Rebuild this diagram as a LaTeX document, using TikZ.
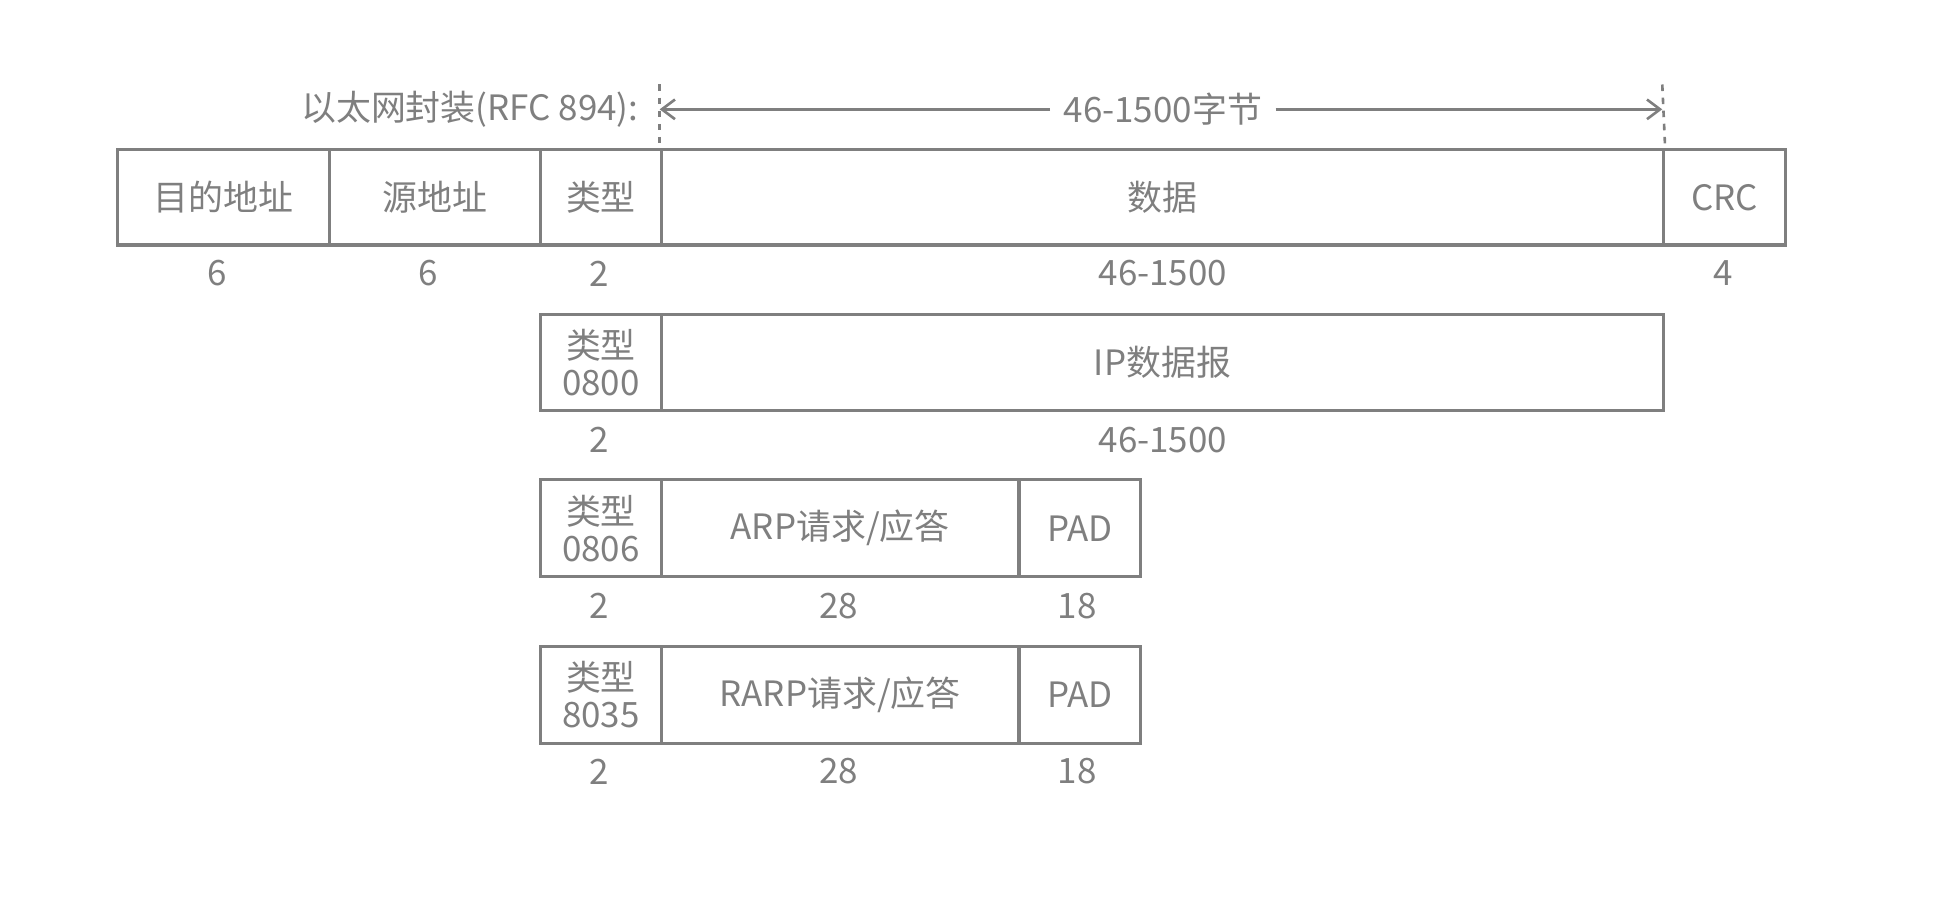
\documentclass[tikz,border=0pt]{standalone}
\usepackage{fontspec}
\setmainfont{Noto Sans CJK SC}
\usetikzlibrary{arrows.meta}
\definecolor{g}{HTML}{7F7F7F}
\begin{document}
\begin{tikzpicture}[x=0.02cm,y=-0.02cm,
  box/.style={draw=g,line width=1.4pt,text=g,font=\fontsize{16}{17}\selectfont,inner sep=0pt,align=center,anchor=north west},
  lab/.style={text=g,font=\fontsize{16}{17}\selectfont,inner sep=1pt}]
\useasboundingbox (0,0) rectangle (1568,725);
% row 1
\node[box,minimum width=3.42cm,minimum height=1.54cm] (a1) at (93,119) {目的地址};
\node[box,minimum width=3.40cm,minimum height=1.54cm] (a2) at (264,119) {源地址};
\node[box,minimum width=1.94cm,minimum height=1.54cm] (a3) at (434,119) {类型};
\node[box,minimum width=16.14cm,minimum height=1.54cm] (a4) at (531,119) {数据};
\node[box,minimum width=1.96cm,minimum height=1.54cm] (a5) at (1338,119) {CRC};
\node[lab] at (175,220) {6};
\node[lab] at (345,220) {6};
\node[lab] at (482,220) {2};
\node[lab] at (936,220) {46-1500};
\node[lab] at (1387,220) {4};
% top
\node[lab,anchor=east] (t) at (516,88) {以太网封装(RFC 894):};
\coordinate (d1) at (531,68); \coordinate (d2) at (1338,68);
\draw[g,line width=1.2pt,dashed] (d1) -- (a4.north west);
\draw[g,line width=1.2pt,dashed] (d2) -- (a4.north east);
\coordinate (l1) at (531,88); \coordinate (l2) at (1338,88);
\node[lab,fill=white,inner sep=6pt] (m) at (936,88) {46-1500字节};
\draw[g,line width=1.2pt,-{Straight Barb[length=6pt,width=9pt]}] (m) -- (l1);
\draw[g,line width=1.2pt,-{Straight Barb[length=6pt,width=9pt]}] (m) -- (l2);
% row 2
\node[box,minimum width=1.94cm,minimum height=1.54cm] (b1) at (434,252) {类型\\0800};
\node[box,minimum width=16.14cm,minimum height=1.54cm] (b2) at (531,252) {IP数据报};
\node[lab] at (482,354) {2};
\node[lab] at (936,354) {46-1500};
% row 3
\node[box,minimum width=1.94cm,minimum height=1.56cm] (c1) at (434,385) {类型\\0806};
\node[box,minimum width=5.76cm,minimum height=1.56cm] (c2) at (531,385) {ARP请求/应答};
\node[box,minimum width=1.96cm,minimum height=1.56cm] (c3) at (819,385) {PAD};
\node[lab] at (482,488) {2};
\node[lab] at (675,488) {28};
\node[lab] at (867,488) {18};
% row 4
\node[box,minimum width=1.94cm,minimum height=1.56cm] (e1) at (434,519) {类型\\8035};
\node[box,minimum width=5.76cm,minimum height=1.56cm] (e2) at (531,519) {RARP请求/应答};
\node[box,minimum width=1.96cm,minimum height=1.56cm] (e3) at (819,519) {PAD};
\node[lab] at (482,621) {2};
\node[lab] at (675,621) {28};
\node[lab] at (867,621) {18};
\end{tikzpicture}
\end{document}
